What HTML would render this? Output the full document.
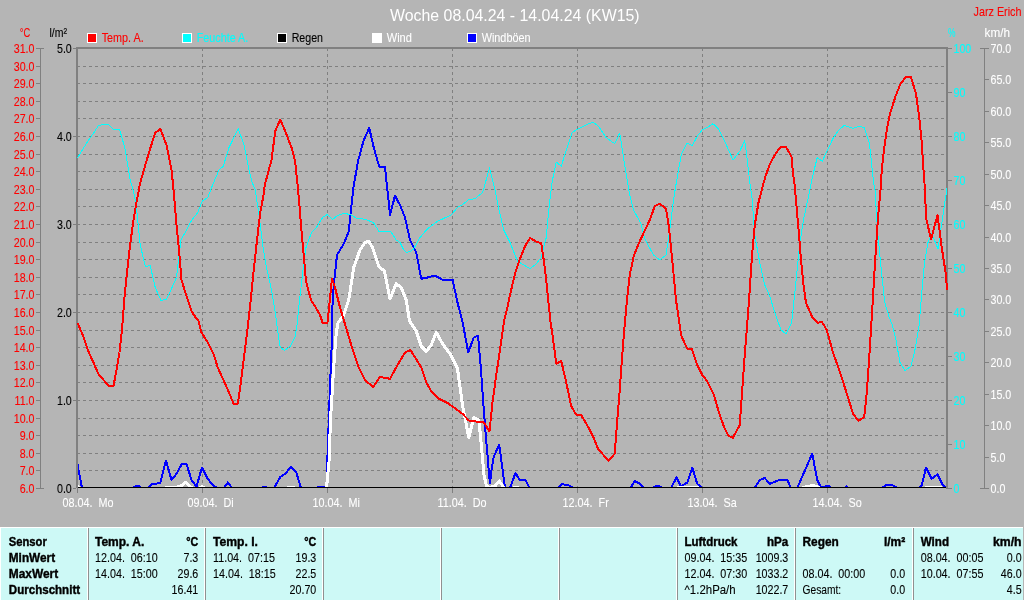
<!DOCTYPE html>
<html lang="de"><head><meta charset="utf-8"><title>Woche 08.04.24 - 14.04.24 (KW15)</title>
<style>
html,body{margin:0;padding:0;background:#b5b5b5;overflow:hidden}
svg{display:block;will-change:transform}
text{font-family:"Liberation Sans",Arial,Helvetica,sans-serif;font-size:12.4px;white-space:pre}
.c{shape-rendering:crispEdges}
.l{fill:none;stroke-linejoin:round;stroke-linecap:butt;shape-rendering:crispEdges}
</style></head><body>
<svg width="1024" height="600" viewBox="0 0 1024 600">
<rect width="1024" height="600" fill="#b5b5b5"/>
<g class="c" stroke="#808080" stroke-width="1" stroke-dasharray="3 3" fill="none">
<line x1="77" y1="66.5" x2="946" y2="66.5"/>
<line x1="77" y1="83.5" x2="946" y2="83.5"/>
<line x1="77" y1="101.5" x2="946" y2="101.5"/>
<line x1="77" y1="118.5" x2="946" y2="118.5"/>
<line x1="77" y1="136.5" x2="946" y2="136.5"/>
<line x1="77" y1="154.5" x2="946" y2="154.5"/>
<line x1="77" y1="171.5" x2="946" y2="171.5"/>
<line x1="77" y1="189.5" x2="946" y2="189.5"/>
<line x1="77" y1="206.5" x2="946" y2="206.5"/>
<line x1="77" y1="224.5" x2="946" y2="224.5"/>
<line x1="77" y1="242.5" x2="946" y2="242.5"/>
<line x1="77" y1="259.5" x2="946" y2="259.5"/>
<line x1="77" y1="277.5" x2="946" y2="277.5"/>
<line x1="77" y1="294.5" x2="946" y2="294.5"/>
<line x1="77" y1="312.5" x2="946" y2="312.5"/>
<line x1="77" y1="330.5" x2="946" y2="330.5"/>
<line x1="77" y1="347.5" x2="946" y2="347.5"/>
<line x1="77" y1="365.5" x2="946" y2="365.5"/>
<line x1="77" y1="382.5" x2="946" y2="382.5"/>
<line x1="77" y1="400.5" x2="946" y2="400.5"/>
<line x1="77" y1="418.5" x2="946" y2="418.5"/>
<line x1="77" y1="435.5" x2="946" y2="435.5"/>
<line x1="77" y1="453.5" x2="946" y2="453.5"/>
<line x1="77" y1="470.5" x2="946" y2="470.5"/>
<line x1="202.5" y1="48" x2="202.5" y2="487"/>
<line x1="327.5" y1="48" x2="327.5" y2="487"/>
<line x1="452.5" y1="48" x2="452.5" y2="487"/>
<line x1="577.5" y1="48" x2="577.5" y2="487"/>
<line x1="702.5" y1="48" x2="702.5" y2="487"/>
<line x1="827.5" y1="48" x2="827.5" y2="487"/>
</g>
<clipPath id="cp"><rect x="76" y="40" width="872" height="448"/></clipPath>
<g clip-path="url(#cp)">
<polyline class="l" stroke="#0000ff" stroke-width="2" points="77.5,464.5 82,488 131.5,488 137.75,485.5 142,488 147.75,488 151.5,484.5 160.25,483 166,460.5 171.5,480 176.5,473.75 181.5,464.5 186.5,464 191.5,480 196.5,486.5 202,467.5 207.75,478.75 213.5,486 217.75,488 224,488 227.75,482.5 232,488 262,488 264,486.5 268,488 274,488 280.25,477 285.25,473.75 291,466.5 296.5,473 301,488 316,488 320,486.5 325,486.5 327,488 327.5,455 329,415 330,385 331.2,360 332,335 332.5,305 333.75,285 337,255 343.75,243.75 348.75,231.25 351.25,207.5 353.5,187 358,161.25 363.75,140 369.25,128 373.75,147.5 379.25,166.75 385,166.75 386.75,185 388,195 390,215 395,195.75 400,205 405,217.5 410,240 416.25,252.5 421.25,278.75 427.5,277.5 435,275.5 442,279.5 452.5,279.5 457.5,302.5 462.5,322 465,335 468.25,352.5 473.75,337.5 478,335.5 481,370 483.25,402.5 485.5,432 487.5,455 489,474 490,483 491.5,470 493.75,456.5 499.25,445 502.5,469 505,488 510,488 515.5,473 520,480.5 525.5,480 529.5,488 557.5,488 562,484 568.75,485.5 574,488 630.5,488 634.75,481.25 639.75,483.75 644,488 652.25,488 657.25,485.5 663.5,488 671,488 676.5,477.5 681,486.5 687.25,482.5 692.25,467.5 697.25,483.75 702.25,488 754.75,488 759.75,480 764.75,478 769.75,483.75 776,481.25 781,479.5 787.25,480 791,488 797.25,488 812.25,453.75 817.25,480 821.5,488 825,486.5 828,485.5 831,488 844,488 846.5,486.5 849,488 881.75,488 886.75,484.5 893,485.5 898,488 919.25,488 921.75,485.5 926,467.5 931.75,478.75 937.5,474.5 943,485.5 947,488"/>
<polyline class="l" stroke="#ffffff" stroke-width="3" points="77.5,486.5 81,489.5 164,489.5 166,487.5 174,487.5 180.25,486.5 185.75,482.25 190.25,486.5 194,489.5 198,489.5 202,486.5 206.5,489.5 287,489.5 289,487 293,487 295,489.5 325.5,489.5 326.5,488 329,462 330.5,420 333.5,370 336.25,332.5 338,323 343.75,315 348.75,300 353.75,267.5 360,250 365,242.5 368.75,241.25 372.5,247.5 378.75,266.25 384.5,271.25 390,298.75 396.25,283.75 401.25,287.5 406.25,300 409.5,321 416.25,331.25 421.25,346.25 426.25,351.25 431.25,345 436.25,332.5 442.5,343.75 450,353.75 457.5,368.75 462.5,405 468.75,437.5 473.75,417.5 478.75,420 480.5,436 482.5,458 484,475 486.5,486 490,487.5 495,486 499.25,481 503.75,487.5 506,489.5 512,489.5 514,487.5 518,487.5 520,489.5 674,489.5 678,487.5 690,487 698,487.5 701,489.5 799,489.5 805,487 812.5,485.5 818,487 822,489.5 921,489.5 925,488 937,487.5 942,488 946,489.5"/>
</g>
<g class="c" fill="#808080">
<rect x="76" y="47" width="2" height="441"/>
<rect x="76" y="47" width="872" height="2"/>
<rect x="946" y="47" width="2" height="442"/>
</g>
<rect class="c" x="78" y="487" width="868" height="1" fill="#000"/>
<g clip-path="url(#cp)">
<polyline class="l" stroke="#00ffff" stroke-width="1" points="77.5,158 87.75,141.25 94,132.5 98.25,125.75 102.75,124.5 108.5,124.5 113.5,129.25 119.5,129.25 124.75,147.5 130.25,180 133.5,191.25 136.5,207.5 140.25,245 145.25,266.25 150.25,265.75 155.25,287.5 161,300.5 166.5,299.25 171.5,288.75 176.5,277.5 178.5,260 181,240 186.5,230 191.5,220.5 197.75,212.5 202.25,201.25 207.75,197.5 213,184 219,170 223.25,166.25 229,147.5 238.25,128.75 244,145 249,170 252,182 255.25,190 259,215 262.75,245 266.5,267.5 271.5,290 275.25,312.5 277.5,330 280.25,347.5 284.5,350.5 290.25,346.25 295.25,336.25 297,325 299,305 302.75,272.5 306,247.5 311.5,232.5 316.5,227.5 320,221.5 323,217 327.5,214.5 332.5,219.5 337.5,215.5 343.75,213.25 350,214.5 356.25,218 366.25,219.5 373.75,223 379.25,232 390.6,231.5 396.25,240 400,242.5 403.1,248.75 406.25,252.5 410,251.5 413.75,248.75 420,237.5 427.5,228.75 437.5,221.25 451.25,215 457.5,207.5 463.75,203.75 468.75,199.5 475,198.75 482.5,192.5 484.5,186 489.5,168 493.5,184 495,190 498.75,208.75 503.75,230 510,242.5 517.5,261.25 525,265.75 530,268.75 536.25,263.75 541.25,257.5 546.25,237.5 548.75,210 551.5,187 552.5,180 556.25,162 561.25,166.25 566.25,150 572,133 576,130 587.25,124.5 593,122 598.5,126.25 606,137.5 614.75,143.75 619.75,133 623.5,157.5 627.25,180 629.75,195 633.5,210 641,223.75 644.75,238.75 653.5,255 659.75,260 666,255 669.75,230 673.5,200 675.75,186 678.5,170 681.5,153.75 687.25,143 692.25,145.5 697.25,136.25 702.25,130 707.25,127.5 713,123.75 718.5,128.75 723.5,138.75 733,160 739.75,151.25 744.75,140.5 747.25,160 749.75,182 752.25,200 754.75,235 759.75,262.5 764.75,285 769.75,296.25 776,316.25 781,330 786,333.75 791,324 792.25,317.5 795.5,286 799.5,246 803.25,221 808.25,197.5 811.75,180 813.5,172.5 817.25,157.5 822.25,161.25 827.5,150 833.5,137.5 839.25,129.5 844.25,125.5 853,128.25 859.25,126.25 864.25,127.5 869.25,142.5 871.75,165 873.5,182 875,190 877.5,230 880.5,262.5 884.75,302.5 889.25,317.5 892,324 895.5,337.5 900,362.5 905,370.75 911,366.25 915.5,347.5 919.25,325 920.5,307.5 924.25,265 928,242.5 931.75,233.75 938,248.75 943,215 947,188"/>
<polyline class="l" stroke="#ff0000" stroke-width="2" points="77.5,323 82.75,335 87.75,350 94,363.75 98.25,373.75 108.5,385.75 113.5,385.75 116.5,370 119.5,352.5 122,330 124.5,297.5 127,272.5 129.5,250 132.75,225 136,205 140,183.75 145,166 150,149 155.25,133 160.25,128.75 166.5,145 171.5,170 173,184 174,195 176.5,225 179,250 181.5,280 186.5,296.25 191.5,311.25 196.5,318.75 198.25,320 201.5,332.5 207.75,342.5 214,355 217.75,367.5 224,381.25 229.5,393.75 233.5,403.75 237.75,403.75 240.25,387.5 242.75,367.5 245.25,347.5 248.25,322.5 251,297.5 254,267.5 257,240 260.25,212.5 264,192.5 264.75,185 271.5,160 275.25,131.25 280.25,119.5 285.25,131.25 292,148.75 295.25,162.5 297.5,184 299,200 301,225 303.5,252.5 306,281.25 311,300 316.5,308.75 320,315 322.5,322.5 327.5,322.5 332,278.75 335,287.5 340,307.5 343.75,320 351.25,345 358.75,367.5 365,380 373,387 380,377 390,378.75 397.5,365 405,352.5 410.5,350 421.25,367.5 426.25,382.5 431.25,391.25 438.75,398.75 448.75,403.75 462.5,413.75 468.75,420.5 483.75,422.5 489.5,431.25 492.5,402.5 496.25,375 500,350 504.25,320 506.25,312.5 510,295 515,273.75 520,258.75 525,246.25 530,238 535.5,241.25 541.25,243.25 543.75,260 546.25,280 548.75,305 550.5,322 552.5,335 556.25,363.75 561.25,361.25 566.25,382.5 571.25,406.25 576,414.5 581.5,415.5 588.5,427.5 593.5,437.5 598,448.75 608.5,460.75 614.75,453.75 617.25,420 619.75,390 622.25,355 624.75,324 627.25,297.5 629.75,275 634,255 639.75,241.25 649.75,220 654.75,206.25 659.75,203.75 666,208.75 669,227.5 672.25,260 676,300 679.5,324 681,335 687.25,348.75 691.75,348.75 697.25,365 702.25,375 707.25,381.25 713.5,393.75 719.75,415 724.75,428.75 728.5,435.75 732.75,438 739.75,425 742.25,390 744.75,355 747.25,324 749.75,290 752.25,252.5 754.75,225 758.5,202.5 762.5,187 765.5,176.25 769.75,164.25 774.75,155 780.5,147 786,147 791.5,156.5 793,173 794.5,184 796,200 798.75,232 801,260 803.5,285 806,303 812.5,317.5 817.5,322.75 822,322 826.75,330 833,352.5 840.5,373.75 848,397.5 853,413.75 858.5,420.75 864.25,417 866.75,392.5 869.25,357.5 871.25,325 872.5,305 874.25,275 876,247.5 878,217.5 880.5,190 881.75,170 884.25,147.5 886.75,130 890,113.75 895.5,96.25 900.5,83.75 905.5,77.5 911,77 916,93.75 919.25,117.5 921.75,142.5 923.5,170 925,190 926,217.5 931,239.5 937.5,215 941.75,247.5 946,275 947,290"/>
</g>
<g class="c" fill="#808080">
<rect x="40" y="48" width="1" height="441"/>
<rect x="36" y="48" width="8" height="1"/>
<rect x="36" y="66" width="4" height="1"/>
<rect x="36" y="83" width="4" height="1"/>
<rect x="36" y="101" width="4" height="1"/>
<rect x="36" y="118" width="4" height="1"/>
<rect x="36" y="136" width="4" height="1"/>
<rect x="36" y="154" width="4" height="1"/>
<rect x="36" y="171" width="4" height="1"/>
<rect x="36" y="189" width="4" height="1"/>
<rect x="36" y="206" width="4" height="1"/>
<rect x="36" y="224" width="4" height="1"/>
<rect x="36" y="242" width="4" height="1"/>
<rect x="36" y="259" width="4" height="1"/>
<rect x="36" y="277" width="4" height="1"/>
<rect x="36" y="294" width="4" height="1"/>
<rect x="36" y="312" width="4" height="1"/>
<rect x="36" y="330" width="4" height="1"/>
<rect x="36" y="347" width="4" height="1"/>
<rect x="36" y="365" width="4" height="1"/>
<rect x="36" y="382" width="4" height="1"/>
<rect x="36" y="400" width="4" height="1"/>
<rect x="36" y="418" width="4" height="1"/>
<rect x="36" y="435" width="4" height="1"/>
<rect x="36" y="453" width="4" height="1"/>
<rect x="36" y="470" width="4" height="1"/>
<rect x="36" y="488" width="8" height="1"/>
<rect x="73" y="48" width="3" height="1"/>
<rect x="73" y="136" width="3" height="1"/>
<rect x="73" y="224" width="3" height="1"/>
<rect x="73" y="312" width="3" height="1"/>
<rect x="73" y="400" width="3" height="1"/>
<rect x="73" y="488" width="3" height="1"/>
<rect x="948" y="48" width="4" height="1"/>
<rect x="948" y="92" width="4" height="1"/>
<rect x="948" y="136" width="4" height="1"/>
<rect x="948" y="180" width="4" height="1"/>
<rect x="948" y="224" width="4" height="1"/>
<rect x="948" y="268" width="4" height="1"/>
<rect x="948" y="312" width="4" height="1"/>
<rect x="948" y="356" width="4" height="1"/>
<rect x="948" y="400" width="4" height="1"/>
<rect x="948" y="444" width="4" height="1"/>
<rect x="948" y="488" width="4" height="1"/>
<rect x="984" y="48" width="1" height="441"/>
<rect x="980" y="48" width="9" height="1"/>
<rect x="985" y="79" width="4" height="1"/>
<rect x="985" y="111" width="4" height="1"/>
<rect x="985" y="142" width="4" height="1"/>
<rect x="985" y="174" width="4" height="1"/>
<rect x="985" y="205" width="4" height="1"/>
<rect x="985" y="237" width="4" height="1"/>
<rect x="985" y="268" width="4" height="1"/>
<rect x="985" y="299" width="4" height="1"/>
<rect x="985" y="331" width="4" height="1"/>
<rect x="985" y="362" width="4" height="1"/>
<rect x="985" y="394" width="4" height="1"/>
<rect x="985" y="425" width="4" height="1"/>
<rect x="985" y="457" width="4" height="1"/>
<rect x="980" y="488" width="9" height="1"/>
<rect x="77" y="488" width="1" height="5"/>
<rect x="202" y="488" width="1" height="5"/>
<rect x="327" y="488" width="1" height="5"/>
<rect x="452" y="488" width="1" height="5"/>
<rect x="577" y="488" width="1" height="5"/>
<rect x="702" y="488" width="1" height="5"/>
<rect x="827" y="488" width="1" height="5"/>
</g>
<text x="34.5" y="52.5" fill="#ff0000" stroke="#ff0000" stroke-width="0.1" text-anchor="end" textLength="20.7656" lengthAdjust="spacingAndGlyphs">31.0</text>
<text x="34.5" y="70.5" fill="#ff0000" stroke="#ff0000" stroke-width="0.1" text-anchor="end" textLength="20.7656" lengthAdjust="spacingAndGlyphs">30.0</text>
<text x="34.5" y="87.5" fill="#ff0000" stroke="#ff0000" stroke-width="0.1" text-anchor="end" textLength="20.7656" lengthAdjust="spacingAndGlyphs">29.0</text>
<text x="34.5" y="105.5" fill="#ff0000" stroke="#ff0000" stroke-width="0.1" text-anchor="end" textLength="20.7656" lengthAdjust="spacingAndGlyphs">28.0</text>
<text x="34.5" y="122.5" fill="#ff0000" stroke="#ff0000" stroke-width="0.1" text-anchor="end" textLength="20.7656" lengthAdjust="spacingAndGlyphs">27.0</text>
<text x="34.5" y="140.5" fill="#ff0000" stroke="#ff0000" stroke-width="0.1" text-anchor="end" textLength="20.7656" lengthAdjust="spacingAndGlyphs">26.0</text>
<text x="34.5" y="158.5" fill="#ff0000" stroke="#ff0000" stroke-width="0.1" text-anchor="end" textLength="20.7656" lengthAdjust="spacingAndGlyphs">25.0</text>
<text x="34.5" y="175.5" fill="#ff0000" stroke="#ff0000" stroke-width="0.1" text-anchor="end" textLength="20.7656" lengthAdjust="spacingAndGlyphs">24.0</text>
<text x="34.5" y="193.5" fill="#ff0000" stroke="#ff0000" stroke-width="0.1" text-anchor="end" textLength="20.7656" lengthAdjust="spacingAndGlyphs">23.0</text>
<text x="34.5" y="210.5" fill="#ff0000" stroke="#ff0000" stroke-width="0.1" text-anchor="end" textLength="20.7656" lengthAdjust="spacingAndGlyphs">22.0</text>
<text x="34.5" y="228.5" fill="#ff0000" stroke="#ff0000" stroke-width="0.1" text-anchor="end" textLength="20.7656" lengthAdjust="spacingAndGlyphs">21.0</text>
<text x="34.5" y="246.5" fill="#ff0000" stroke="#ff0000" stroke-width="0.1" text-anchor="end" textLength="20.7656" lengthAdjust="spacingAndGlyphs">20.0</text>
<text x="34.5" y="263.5" fill="#ff0000" stroke="#ff0000" stroke-width="0.1" text-anchor="end" textLength="20.7656" lengthAdjust="spacingAndGlyphs">19.0</text>
<text x="34.5" y="281.5" fill="#ff0000" stroke="#ff0000" stroke-width="0.1" text-anchor="end" textLength="20.7656" lengthAdjust="spacingAndGlyphs">18.0</text>
<text x="34.5" y="298.5" fill="#ff0000" stroke="#ff0000" stroke-width="0.1" text-anchor="end" textLength="20.7656" lengthAdjust="spacingAndGlyphs">17.0</text>
<text x="34.5" y="316.5" fill="#ff0000" stroke="#ff0000" stroke-width="0.1" text-anchor="end" textLength="20.7656" lengthAdjust="spacingAndGlyphs">16.0</text>
<text x="34.5" y="334.5" fill="#ff0000" stroke="#ff0000" stroke-width="0.1" text-anchor="end" textLength="20.7656" lengthAdjust="spacingAndGlyphs">15.0</text>
<text x="34.5" y="351.5" fill="#ff0000" stroke="#ff0000" stroke-width="0.1" text-anchor="end" textLength="20.7656" lengthAdjust="spacingAndGlyphs">14.0</text>
<text x="34.5" y="369.5" fill="#ff0000" stroke="#ff0000" stroke-width="0.1" text-anchor="end" textLength="20.7656" lengthAdjust="spacingAndGlyphs">13.0</text>
<text x="34.5" y="386.5" fill="#ff0000" stroke="#ff0000" stroke-width="0.1" text-anchor="end" textLength="20.7656" lengthAdjust="spacingAndGlyphs">12.0</text>
<text x="34.5" y="404.5" fill="#ff0000" stroke="#ff0000" stroke-width="0.1" text-anchor="end" textLength="19.9744" lengthAdjust="spacingAndGlyphs">11.0</text>
<text x="34.5" y="422.5" fill="#ff0000" stroke="#ff0000" stroke-width="0.1" text-anchor="end" textLength="20.7656" lengthAdjust="spacingAndGlyphs">10.0</text>
<text x="34.5" y="439.5" fill="#ff0000" stroke="#ff0000" stroke-width="0.1" text-anchor="end" textLength="14.8319" lengthAdjust="spacingAndGlyphs">9.0</text>
<text x="34.5" y="457.5" fill="#ff0000" stroke="#ff0000" stroke-width="0.1" text-anchor="end" textLength="14.8319" lengthAdjust="spacingAndGlyphs">8.0</text>
<text x="34.5" y="474.5" fill="#ff0000" stroke="#ff0000" stroke-width="0.1" text-anchor="end" textLength="14.8319" lengthAdjust="spacingAndGlyphs">7.0</text>
<text x="34.5" y="492.5" fill="#ff0000" stroke="#ff0000" stroke-width="0.1" text-anchor="end" textLength="14.8319" lengthAdjust="spacingAndGlyphs">6.0</text>
<text x="71.8" y="52.5" fill="#000000" stroke="#000000" stroke-width="0.1" text-anchor="end" textLength="14.8319" lengthAdjust="spacingAndGlyphs">5.0</text>
<text x="71.8" y="140.5" fill="#000000" stroke="#000000" stroke-width="0.1" text-anchor="end" textLength="14.8319" lengthAdjust="spacingAndGlyphs">4.0</text>
<text x="71.8" y="228.5" fill="#000000" stroke="#000000" stroke-width="0.1" text-anchor="end" textLength="14.8319" lengthAdjust="spacingAndGlyphs">3.0</text>
<text x="71.8" y="316.5" fill="#000000" stroke="#000000" stroke-width="0.1" text-anchor="end" textLength="14.8319" lengthAdjust="spacingAndGlyphs">2.0</text>
<text x="71.8" y="404.5" fill="#000000" stroke="#000000" stroke-width="0.1" text-anchor="end" textLength="14.8319" lengthAdjust="spacingAndGlyphs">1.0</text>
<text x="71.8" y="492.5" fill="#000000" stroke="#000000" stroke-width="0.1" text-anchor="end" textLength="14.8319" lengthAdjust="spacingAndGlyphs">0.0</text>
<text x="953.5" y="52.5" fill="#00ffff" stroke="#00ffff" stroke-width="0.1" textLength="17.801" lengthAdjust="spacingAndGlyphs">100</text>
<text x="953.5" y="96.5" fill="#00ffff" stroke="#00ffff" stroke-width="0.1" textLength="11.8673" lengthAdjust="spacingAndGlyphs">90</text>
<text x="953.5" y="140.5" fill="#00ffff" stroke="#00ffff" stroke-width="0.1" textLength="11.8673" lengthAdjust="spacingAndGlyphs">80</text>
<text x="953.5" y="184.5" fill="#00ffff" stroke="#00ffff" stroke-width="0.1" textLength="11.8673" lengthAdjust="spacingAndGlyphs">70</text>
<text x="953.5" y="228.5" fill="#00ffff" stroke="#00ffff" stroke-width="0.1" textLength="11.8673" lengthAdjust="spacingAndGlyphs">60</text>
<text x="953.5" y="272.5" fill="#00ffff" stroke="#00ffff" stroke-width="0.1" textLength="11.8673" lengthAdjust="spacingAndGlyphs">50</text>
<text x="953.5" y="316.5" fill="#00ffff" stroke="#00ffff" stroke-width="0.1" textLength="11.8673" lengthAdjust="spacingAndGlyphs">40</text>
<text x="953.5" y="360.5" fill="#00ffff" stroke="#00ffff" stroke-width="0.1" textLength="11.8673" lengthAdjust="spacingAndGlyphs">30</text>
<text x="953.5" y="404.5" fill="#00ffff" stroke="#00ffff" stroke-width="0.1" textLength="11.8673" lengthAdjust="spacingAndGlyphs">20</text>
<text x="953.5" y="448.5" fill="#00ffff" stroke="#00ffff" stroke-width="0.1" textLength="11.8673" lengthAdjust="spacingAndGlyphs">10</text>
<text x="953.5" y="492.5" fill="#00ffff" stroke="#00ffff" stroke-width="0.1" textLength="5.93367" lengthAdjust="spacingAndGlyphs">0</text>
<text x="990.5" y="52.5" fill="#ffffff" stroke="#ffffff" stroke-width="0.1" textLength="20.7656" lengthAdjust="spacingAndGlyphs">70.0</text>
<text x="990.5" y="83.5" fill="#ffffff" stroke="#ffffff" stroke-width="0.1" textLength="20.7656" lengthAdjust="spacingAndGlyphs">65.0</text>
<text x="990.5" y="115.5" fill="#ffffff" stroke="#ffffff" stroke-width="0.1" textLength="20.7656" lengthAdjust="spacingAndGlyphs">60.0</text>
<text x="990.5" y="146.5" fill="#ffffff" stroke="#ffffff" stroke-width="0.1" textLength="20.7656" lengthAdjust="spacingAndGlyphs">55.0</text>
<text x="990.5" y="178.5" fill="#ffffff" stroke="#ffffff" stroke-width="0.1" textLength="20.7656" lengthAdjust="spacingAndGlyphs">50.0</text>
<text x="990.5" y="209.5" fill="#ffffff" stroke="#ffffff" stroke-width="0.1" textLength="20.7656" lengthAdjust="spacingAndGlyphs">45.0</text>
<text x="990.5" y="241.5" fill="#ffffff" stroke="#ffffff" stroke-width="0.1" textLength="20.7656" lengthAdjust="spacingAndGlyphs">40.0</text>
<text x="990.5" y="272.5" fill="#ffffff" stroke="#ffffff" stroke-width="0.1" textLength="20.7656" lengthAdjust="spacingAndGlyphs">35.0</text>
<text x="990.5" y="303.5" fill="#ffffff" stroke="#ffffff" stroke-width="0.1" textLength="20.7656" lengthAdjust="spacingAndGlyphs">30.0</text>
<text x="990.5" y="335.5" fill="#ffffff" stroke="#ffffff" stroke-width="0.1" textLength="20.7656" lengthAdjust="spacingAndGlyphs">25.0</text>
<text x="990.5" y="366.5" fill="#ffffff" stroke="#ffffff" stroke-width="0.1" textLength="20.7656" lengthAdjust="spacingAndGlyphs">20.0</text>
<text x="990.5" y="398.5" fill="#ffffff" stroke="#ffffff" stroke-width="0.1" textLength="20.7656" lengthAdjust="spacingAndGlyphs">15.0</text>
<text x="990.5" y="429.5" fill="#ffffff" stroke="#ffffff" stroke-width="0.1" textLength="20.7656" lengthAdjust="spacingAndGlyphs">10.0</text>
<text x="990.5" y="461.5" fill="#ffffff" stroke="#ffffff" stroke-width="0.1" textLength="14.8319" lengthAdjust="spacingAndGlyphs">5.0</text>
<text x="990.5" y="492.5" fill="#ffffff" stroke="#ffffff" stroke-width="0.1" textLength="14.8319" lengthAdjust="spacingAndGlyphs">0.0</text>
<text x="19.8" y="37" fill="#ff0000" stroke="#ff0000" stroke-width="0.1" textLength="10.5" lengthAdjust="spacingAndGlyphs">°C</text>
<text x="49.5" y="37" fill="#000000" stroke="#000000" stroke-width="0.1" textLength="17.5" lengthAdjust="spacingAndGlyphs">l/m²</text>
<text x="948" y="37" fill="#00ffff" stroke="#00ffff" stroke-width="0.1" textLength="7.5" lengthAdjust="spacingAndGlyphs">%</text>
<text x="984.5" y="37" fill="#ffffff" stroke="#ffffff" stroke-width="0.1" textLength="25.5" lengthAdjust="spacingAndGlyphs">km/h</text>
<text x="973.5" y="16" fill="#ff0000" stroke="#ff0000" stroke-width="0.1" textLength="48" lengthAdjust="spacingAndGlyphs">Jarz Erich</text>
<text x="390" y="21" fill="#ffffff" stroke="#ffffff" stroke-width="0" style="font-size:16.5px" textLength="249.6" lengthAdjust="spacingAndGlyphs">Woche 08.04.24 - 14.04.24 (KW15)</text>
<rect class="c" x="87" y="33" width="10" height="10" fill="#fff"/>
<rect class="c" x="88" y="34" width="8" height="8" fill="#ff0000"/>
<text x="101.7" y="42" fill="#ff0000" stroke="#ff0000" stroke-width="0.1" textLength="42" lengthAdjust="spacingAndGlyphs">Temp. A.</text>
<rect class="c" x="182" y="33" width="10" height="10" fill="#fff"/>
<rect class="c" x="183" y="34" width="8" height="8" fill="#00ffff"/>
<text x="196.7" y="42" fill="#00ffff" stroke="#00ffff" stroke-width="0.1" textLength="51.6" lengthAdjust="spacingAndGlyphs">Feuchte A.</text>
<rect class="c" x="277" y="33" width="10" height="10" fill="#fff"/>
<rect class="c" x="278" y="34" width="8" height="8" fill="#000000"/>
<text x="291.7" y="42" fill="#000000" stroke="#000000" stroke-width="0.1" textLength="31.3" lengthAdjust="spacingAndGlyphs">Regen</text>
<rect class="c" x="372" y="33" width="10" height="10" fill="#fff"/>
<rect class="c" x="373" y="34" width="8" height="8" fill="#ffffff"/>
<text x="386.7" y="42" fill="#ffffff" stroke="#ffffff" stroke-width="0.1" textLength="25.2" lengthAdjust="spacingAndGlyphs">Wind</text>
<rect class="c" x="467" y="33" width="10" height="10" fill="#fff"/>
<rect class="c" x="468" y="34" width="8" height="8" fill="#0000ff"/>
<text x="481.7" y="42" fill="#ffffff" stroke="#ffffff" stroke-width="0.1" textLength="48.8" lengthAdjust="spacingAndGlyphs">Windböen</text>
<text x="62.5" y="507" fill="#ffffff" stroke="#ffffff" stroke-width="0.1" textLength="51.0379" lengthAdjust="spacingAndGlyphs">08.04.  Mo</text>
<text x="187.5" y="507" fill="#ffffff" stroke="#ffffff" stroke-width="0.1" textLength="46.2338" lengthAdjust="spacingAndGlyphs">09.04.  Di</text>
<text x="312.5" y="507" fill="#ffffff" stroke="#ffffff" stroke-width="0.1" textLength="47.4306" lengthAdjust="spacingAndGlyphs">10.04.  Mi</text>
<text x="437.5" y="507" fill="#ffffff" stroke="#ffffff" stroke-width="0.1" textLength="49.0402" lengthAdjust="spacingAndGlyphs">11.04.  Do</text>
<text x="562.5" y="507" fill="#ffffff" stroke="#ffffff" stroke-width="0.1" textLength="46.2277" lengthAdjust="spacingAndGlyphs">12.04.  Fr</text>
<text x="687.5" y="507" fill="#ffffff" stroke="#ffffff" stroke-width="0.1" textLength="49.2458" lengthAdjust="spacingAndGlyphs">13.04.  Sa</text>
<text x="812.5" y="507" fill="#ffffff" stroke="#ffffff" stroke-width="0.1" textLength="49.2458" lengthAdjust="spacingAndGlyphs">14.04.  So</text>
<rect class="c" x="0" y="527" width="1023" height="73" fill="#cdf9f6"/>
<rect class="c" x="0" y="527" width="1023" height="1" fill="#fff"/>
<rect class="c" x="0" y="527" width="1" height="73" fill="#fff"/>
<rect class="c" x="87" y="528" width="1" height="72" fill="#fff"/>
<rect class="c" x="88" y="528" width="1" height="72" fill="#909090"/>
<rect class="c" x="204" y="528" width="1" height="72" fill="#fff"/>
<rect class="c" x="205" y="528" width="1" height="72" fill="#909090"/>
<rect class="c" x="322" y="528" width="1" height="72" fill="#fff"/>
<rect class="c" x="323" y="528" width="1" height="72" fill="#909090"/>
<rect class="c" x="440" y="528" width="1" height="72" fill="#fff"/>
<rect class="c" x="441" y="528" width="1" height="72" fill="#909090"/>
<rect class="c" x="558" y="528" width="1" height="72" fill="#fff"/>
<rect class="c" x="559" y="528" width="1" height="72" fill="#909090"/>
<rect class="c" x="676" y="528" width="1" height="72" fill="#fff"/>
<rect class="c" x="677" y="528" width="1" height="72" fill="#909090"/>
<rect class="c" x="794" y="528" width="1" height="72" fill="#fff"/>
<rect class="c" x="795" y="528" width="1" height="72" fill="#909090"/>
<rect class="c" x="912" y="528" width="1" height="72" fill="#fff"/>
<rect class="c" x="913" y="528" width="1" height="72" fill="#909090"/>
<text x="8.8" y="546" fill="#000000" stroke="#000000" stroke-width="0.4" font-weight="bold" textLength="38" lengthAdjust="spacingAndGlyphs">Sensor</text>
<text x="8.8" y="562" fill="#000000" stroke="#000000" stroke-width="0.4" font-weight="bold" textLength="46.3" lengthAdjust="spacingAndGlyphs">MinWert</text>
<text x="8.8" y="578" fill="#000000" stroke="#000000" stroke-width="0.4" font-weight="bold" textLength="49.3" lengthAdjust="spacingAndGlyphs">MaxWert</text>
<text x="8.8" y="594" fill="#000000" stroke="#000000" stroke-width="0.4" font-weight="bold" textLength="71.3" lengthAdjust="spacingAndGlyphs">Durchschnitt</text>
<text x="95" y="546" fill="#000000" stroke="#000000" stroke-width="0.4" font-weight="bold" textLength="49.3" lengthAdjust="spacingAndGlyphs">Temp. A.</text>
<text x="186.3" y="546" fill="#000000" stroke="#000000" stroke-width="0.4" font-weight="bold" textLength="12" lengthAdjust="spacingAndGlyphs">°C</text>
<text x="95" y="562" fill="#000000" stroke="#000000" stroke-width="0.1" textLength="62.7417" lengthAdjust="spacingAndGlyphs">12.04.  06:10</text>
<text x="198.3" y="562" fill="#000000" stroke="#000000" stroke-width="0.1" text-anchor="end" textLength="14.8319" lengthAdjust="spacingAndGlyphs">7.3</text>
<text x="95" y="578" fill="#000000" stroke="#000000" stroke-width="0.1" textLength="62.7417" lengthAdjust="spacingAndGlyphs">14.04.  15:00</text>
<text x="198.3" y="578" fill="#000000" stroke="#000000" stroke-width="0.1" text-anchor="end" textLength="20.7656" lengthAdjust="spacingAndGlyphs">29.6</text>
<text x="198.3" y="594" fill="#000000" stroke="#000000" stroke-width="0.1" text-anchor="end" textLength="26.6992" lengthAdjust="spacingAndGlyphs">16.41</text>
<text x="213" y="546" fill="#000000" stroke="#000000" stroke-width="0.4" font-weight="bold" textLength="45" lengthAdjust="spacingAndGlyphs">Temp. I.</text>
<text x="304.3" y="546" fill="#000000" stroke="#000000" stroke-width="0.4" font-weight="bold" textLength="12" lengthAdjust="spacingAndGlyphs">°C</text>
<text x="213" y="562" fill="#000000" stroke="#000000" stroke-width="0.1" textLength="61.9449" lengthAdjust="spacingAndGlyphs">11.04.  07:15</text>
<text x="316.3" y="562" fill="#000000" stroke="#000000" stroke-width="0.1" text-anchor="end" textLength="20.7656" lengthAdjust="spacingAndGlyphs">19.3</text>
<text x="213" y="578" fill="#000000" stroke="#000000" stroke-width="0.1" textLength="62.7417" lengthAdjust="spacingAndGlyphs">14.04.  18:15</text>
<text x="316.3" y="578" fill="#000000" stroke="#000000" stroke-width="0.1" text-anchor="end" textLength="20.7656" lengthAdjust="spacingAndGlyphs">22.5</text>
<text x="316.3" y="594" fill="#000000" stroke="#000000" stroke-width="0.1" text-anchor="end" textLength="26.6992" lengthAdjust="spacingAndGlyphs">20.70</text>
<text x="684.5" y="546" fill="#000000" stroke="#000000" stroke-width="0.4" font-weight="bold" textLength="53" lengthAdjust="spacingAndGlyphs">Luftdruck</text>
<text x="767" y="546" fill="#000000" stroke="#000000" stroke-width="0.4" font-weight="bold" textLength="21.3" lengthAdjust="spacingAndGlyphs">hPa</text>
<text x="684.5" y="562" fill="#000000" stroke="#000000" stroke-width="0.1" textLength="62.7417" lengthAdjust="spacingAndGlyphs">09.04.  15:35</text>
<text x="788.3" y="562" fill="#000000" stroke="#000000" stroke-width="0.1" text-anchor="end" textLength="32.6329" lengthAdjust="spacingAndGlyphs">1009.3</text>
<text x="684.5" y="578" fill="#000000" stroke="#000000" stroke-width="0.1" textLength="62.7417" lengthAdjust="spacingAndGlyphs">12.04.  07:30</text>
<text x="788.3" y="578" fill="#000000" stroke="#000000" stroke-width="0.1" text-anchor="end" textLength="32.6329" lengthAdjust="spacingAndGlyphs">1033.2</text>
<text x="684.5" y="594" fill="#000000" stroke="#000000" stroke-width="0.1" textLength="51.1647" lengthAdjust="spacingAndGlyphs">^1.2hPa/h</text>
<text x="788.3" y="594" fill="#000000" stroke="#000000" stroke-width="0.1" text-anchor="end" textLength="32.6329" lengthAdjust="spacingAndGlyphs">1022.7</text>
<text x="802.5" y="546" fill="#000000" stroke="#000000" stroke-width="0.4" font-weight="bold" textLength="36.3" lengthAdjust="spacingAndGlyphs">Regen</text>
<text x="883.9" y="546" fill="#000000" stroke="#000000" stroke-width="0.4" font-weight="bold" textLength="21.3" lengthAdjust="spacingAndGlyphs">l/m²</text>
<text x="802.5" y="578" fill="#000000" stroke="#000000" stroke-width="0.1" textLength="62.7417" lengthAdjust="spacingAndGlyphs">08.04.  00:00</text>
<text x="905.2" y="578" fill="#000000" stroke="#000000" stroke-width="0.1" text-anchor="end" textLength="14.8319" lengthAdjust="spacingAndGlyphs">0.0</text>
<text x="802.5" y="594" fill="#000000" stroke="#000000" stroke-width="0.1" textLength="38.656" lengthAdjust="spacingAndGlyphs">Gesamt:</text>
<text x="905.2" y="594" fill="#000000" stroke="#000000" stroke-width="0.1" text-anchor="end" textLength="14.8319" lengthAdjust="spacingAndGlyphs">0.0</text>
<text x="920.7" y="546" fill="#000000" stroke="#000000" stroke-width="0.4" font-weight="bold" textLength="28.3" lengthAdjust="spacingAndGlyphs">Wind</text>
<text x="993" y="546" fill="#000000" stroke="#000000" stroke-width="0.4" font-weight="bold" textLength="28.6" lengthAdjust="spacingAndGlyphs">km/h</text>
<text x="920.7" y="562" fill="#000000" stroke="#000000" stroke-width="0.1" textLength="62.7417" lengthAdjust="spacingAndGlyphs">08.04.  00:05</text>
<text x="1021.6" y="562" fill="#000000" stroke="#000000" stroke-width="0.1" text-anchor="end" textLength="14.8319" lengthAdjust="spacingAndGlyphs">0.0</text>
<text x="920.7" y="578" fill="#000000" stroke="#000000" stroke-width="0.1" textLength="62.7417" lengthAdjust="spacingAndGlyphs">10.04.  07:55</text>
<text x="1021.6" y="578" fill="#000000" stroke="#000000" stroke-width="0.1" text-anchor="end" textLength="20.7656" lengthAdjust="spacingAndGlyphs">46.0</text>
<text x="1021.6" y="594" fill="#000000" stroke="#000000" stroke-width="0.1" text-anchor="end" textLength="14.8319" lengthAdjust="spacingAndGlyphs">4.5</text>
</svg>
</body></html>
